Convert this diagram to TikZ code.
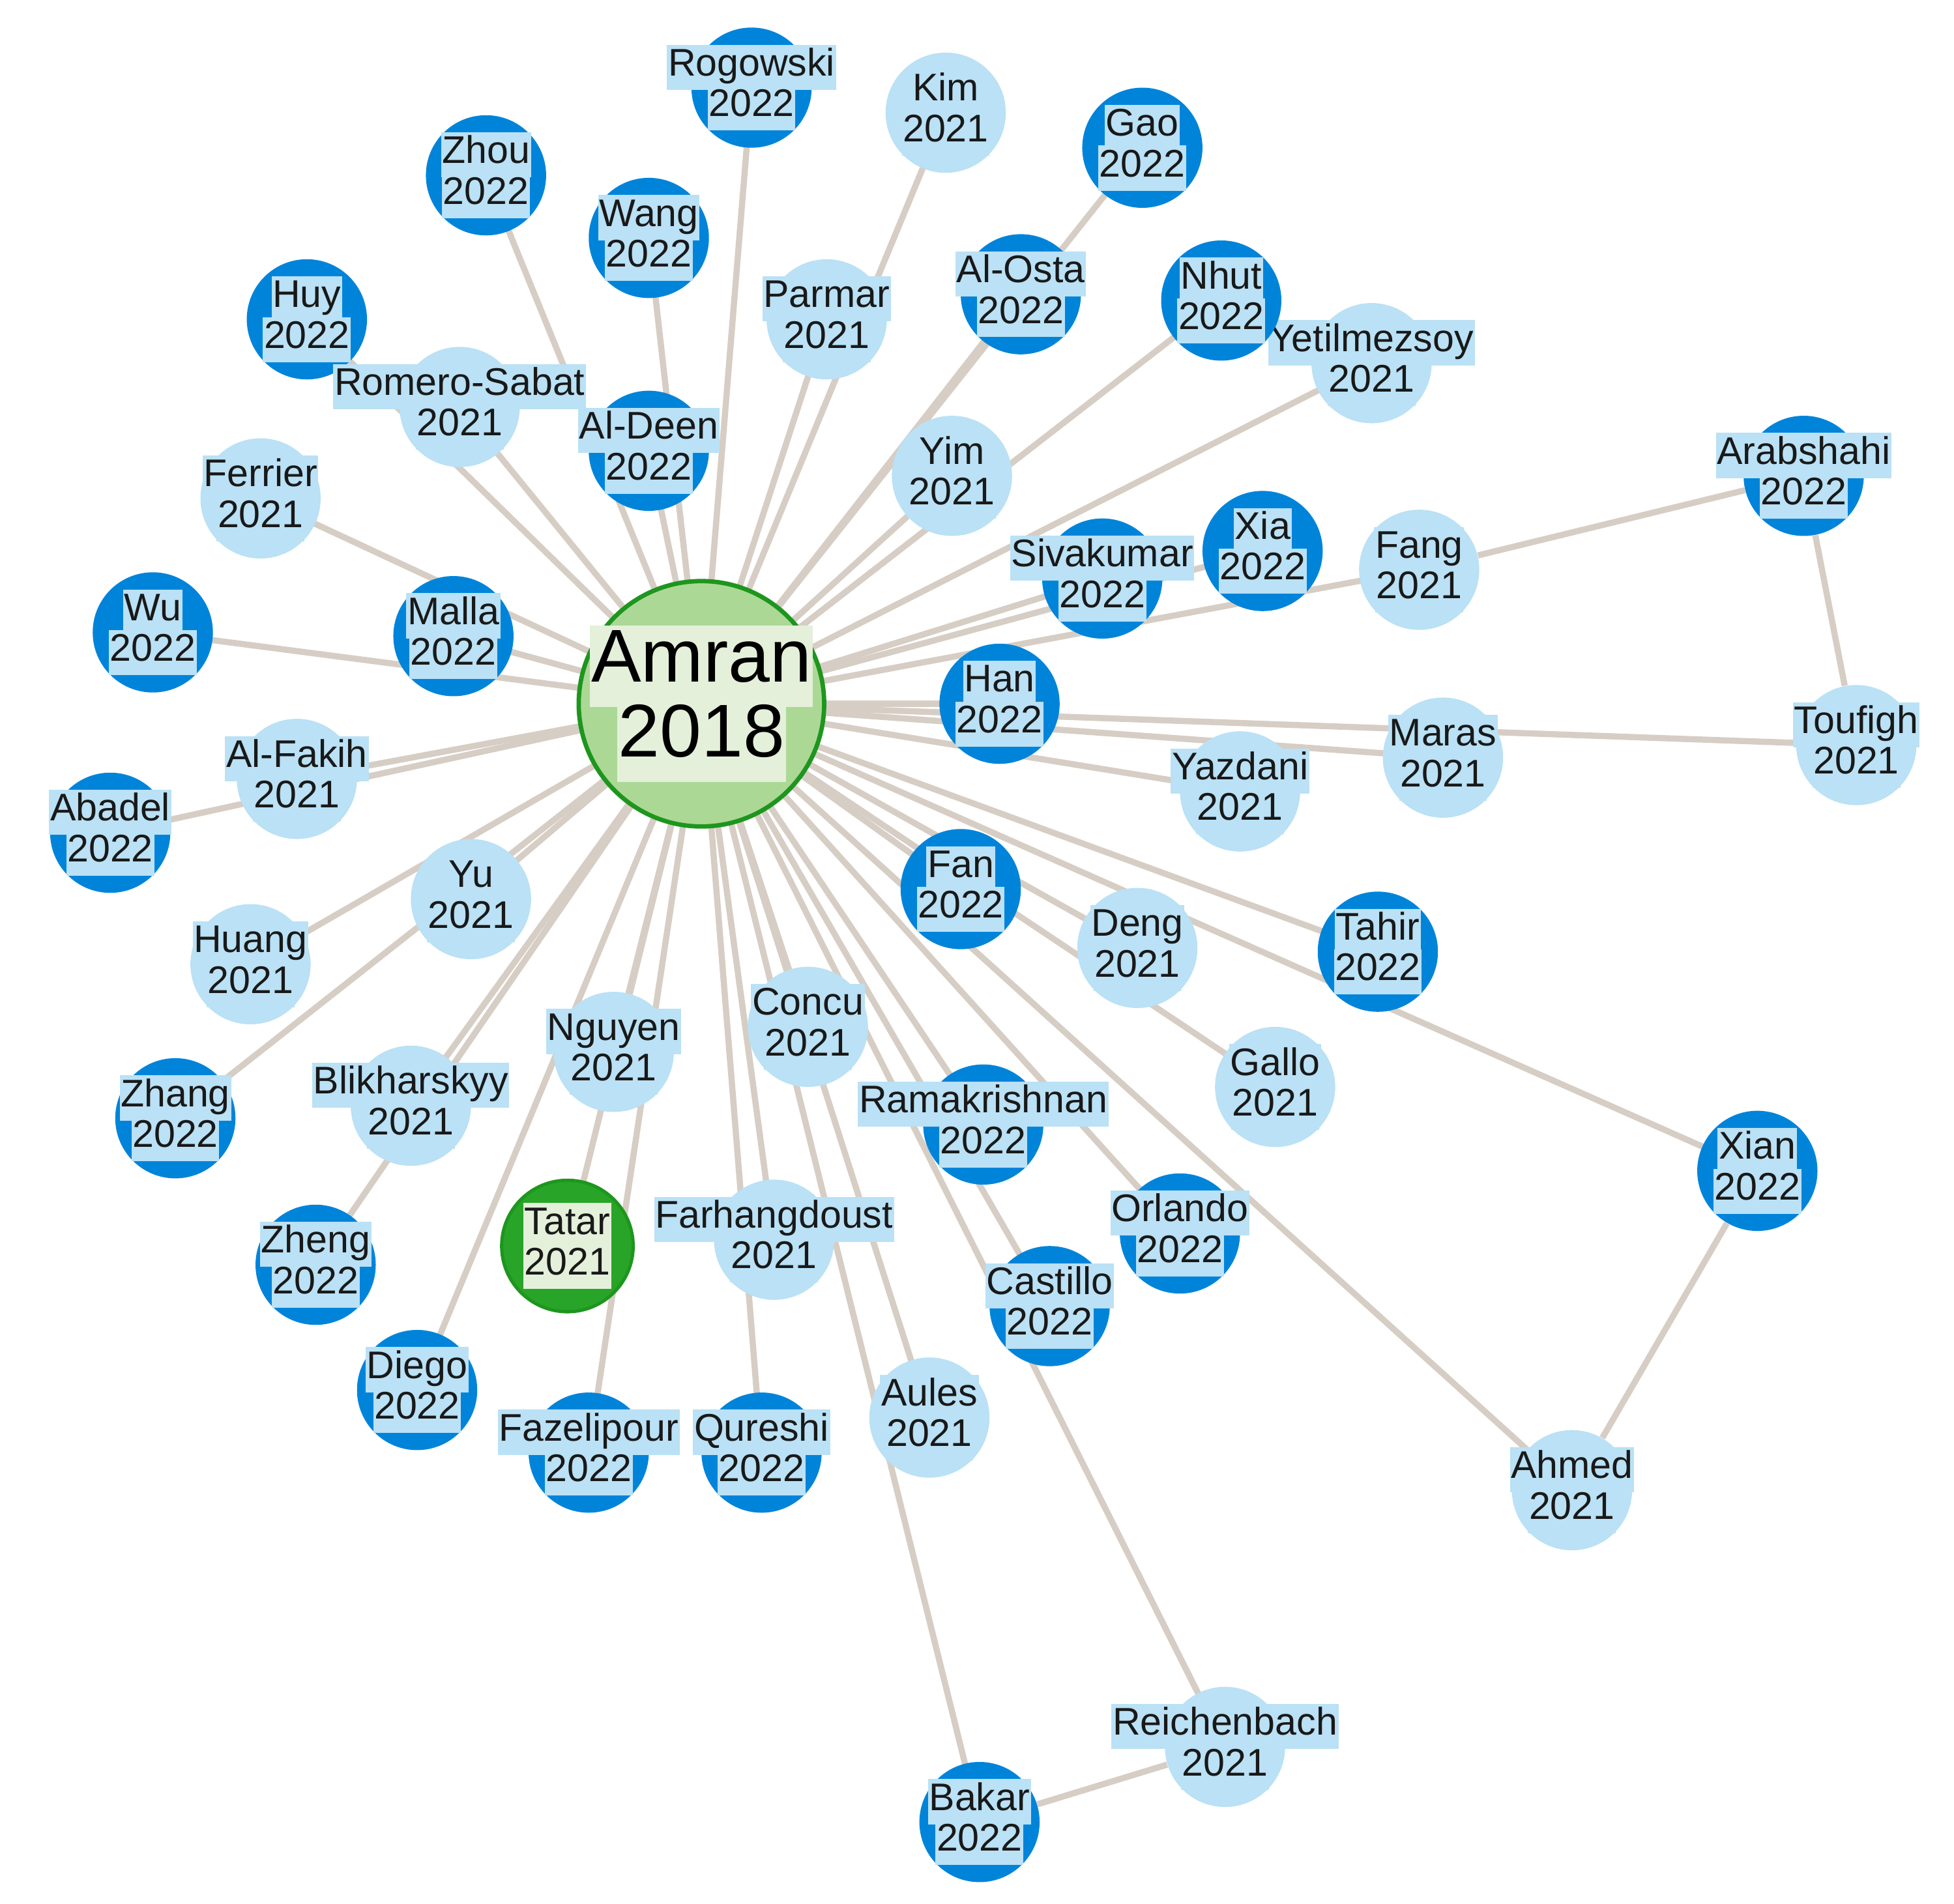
\documentclass[tikz,border=0pt]{standalone}
\usepackage{fontspec}
\setmainfont{Liberation Sans}
\usetikzlibrary{backgrounds}
\definecolor{dk}{RGB}{0,132,218}
\definecolor{lt}{RGB}{186,225,245}
\definecolor{ed}{RGB}{214,205,196}
\definecolor{gr}{RGB}{172,216,150}
\definecolor{grb}{RGB}{30,150,30}
\definecolor{gd}{RGB}{40,165,40}
\definecolor{glab}{RGB}{228,240,218}
\definecolor{tx}{RGB}{25,25,25}
\setlength{\fboxsep}{0.5pt}
\newcommand{\hlb}[1]{\colorbox{lt}{\strut #1}}
\newcommand{\hlg}[1]{\colorbox{glab}{\strut #1}}
\tikzset{
 c22/.style={circle,fill=dk,minimum size=1.92cm,inner sep=0pt},
 c21/.style={circle,fill=lt,minimum size=1.92cm,inner sep=0pt},
 ctat/.style={circle,fill=gd,draw=grb,line width=1.5pt,minimum size=2.1cm,inner sep=0pt},
 lab/.style={text=tx,align=center,inner sep=0pt,font=\fontsize{17.5}{19.5}\selectfont},
}
\begin{document}
\begin{tikzpicture}[x=0.02cm,y=-0.02cm]
\useasboundingbox (0,0) rectangle (1560,1520);
\node[circle,fill=gr,draw=grb,line width=2pt,minimum size=3.92cm] (Amran) at (560,562) {};
\node[text=black,align=center,inner sep=0pt,font=\fontsize{34}{36}\selectfont] at (Amran) {\hlg{Amran}\\[-4pt]\hlg{2018}};
\foreach \n/\x/\y/\yr/\s in {
 Yetilmezsoy/1095/290/2021/c21,
 Rogowski/600/70/2022/c22, Kim/755/90/2021/c21, Gao/912/118/2022/c22,
 Zhou/388/140/2022/c22, Wang/518/190/2022/c22, Parmar/660/255/2021/c21,
 Al-Osta/815/235/2022/c22, Nhut/975/240/2022/c22,
 Huy/245/255/2022/c22, Romero-Sabat/367/325/2021/c21, Al-Deen/518/360/2022/c22,
 Ferrier/208/398/2021/c21, Yim/760/380/2021/c21, Arabshahi/1440/380/2022/c22,
 Sivakumar/880/462/2022/c22, Xia/1008/440/2022/c22, Fang/1133/455/2021/c21,
 Wu/122/505/2022/c22, Malla/362/508/2022/c22, Han/798/562/2022/c22,
 Maras/1152/605/2021/c21, Toufigh/1482/595/2021/c21, Yazdani/990/632/2021/c21,
 Al-Fakih/237/622/2021/c21, Abadel/88/665/2022/c22, Yu/376/718/2021/c21,
 Huang/200/770/2021/c21, Fan/767/710/2022/c22, Deng/908/757/2021/c21,
 Tahir/1100/760/2022/c22, Concu/645/820/2021/c21, Nguyen/490/840/2021/c21,
 Zhang/140/893/2022/c22, Blikharskyy/328/883/2021/c21, Gallo/1018/868/2021/c21,
 Ramakrishnan/785/898/2022/c22, Xian/1403/935/2022/c22,
 Farhangdoust/618/990/2021/c21, Orlando/942/985/2022/c22,
 Zheng/252/1010/2022/c22, Castillo/838/1043/2022/c22, Diego/333/1110/2022/c22,
 Fazelipour/470/1160/2022/c22, Qureshi/608/1160/2022/c22, Aules/742/1132/2021/c21,
 Ahmed/1255/1190/2021/c21, Reichenbach/978/1395/2021/c21, Bakar/782/1455/2022/c22}
{
 \node[\s] (\n) at (\x,\y) {};
 \node[lab] at (\n) {\hlb{\n}\\[-3pt]\hlb{\yr}};
}
\node[ctat] (Tatar) at (453,995) {};
\node[lab] at (Tatar) {\hlg{Tatar}\\[-3pt]\hlg{2021}};
\begin{scope}[on background layer]
\foreach \n in {Rogowski,Kim,Gao,Zhou,Wang,Parmar,Al-Osta,Nhut,Yetilmezsoy,Huy,
 Romero-Sabat,Al-Deen,Ferrier,Yim,Sivakumar,Xia,Fang,Wu,Malla,Han,Maras,Toufigh,
 Yazdani,Al-Fakih,Abadel,Yu,Huang,Fan,Deng,Tahir,Concu,Nguyen,Zhang,Blikharskyy,
 Gallo,Ramakrishnan,Xian,Tatar,Farhangdoust,Orlando,Zheng,Castillo,Diego,
 Fazelipour,Qureshi,Aules,Ahmed,Reichenbach,Bakar}
 \draw[draw=ed,line width=2.8pt] (Amran.center) -- (\n.center);
\draw[draw=ed,line width=2.8pt] (Arabshahi) -- (Fang);
\draw[draw=ed,line width=2.8pt] (Arabshahi) -- (Toufigh);
\draw[draw=ed,line width=2.8pt] (Xian) -- (Ahmed);
\draw[draw=ed,line width=2.8pt] (Bakar) -- (Reichenbach);
\end{scope}
\end{tikzpicture}
\end{document}
